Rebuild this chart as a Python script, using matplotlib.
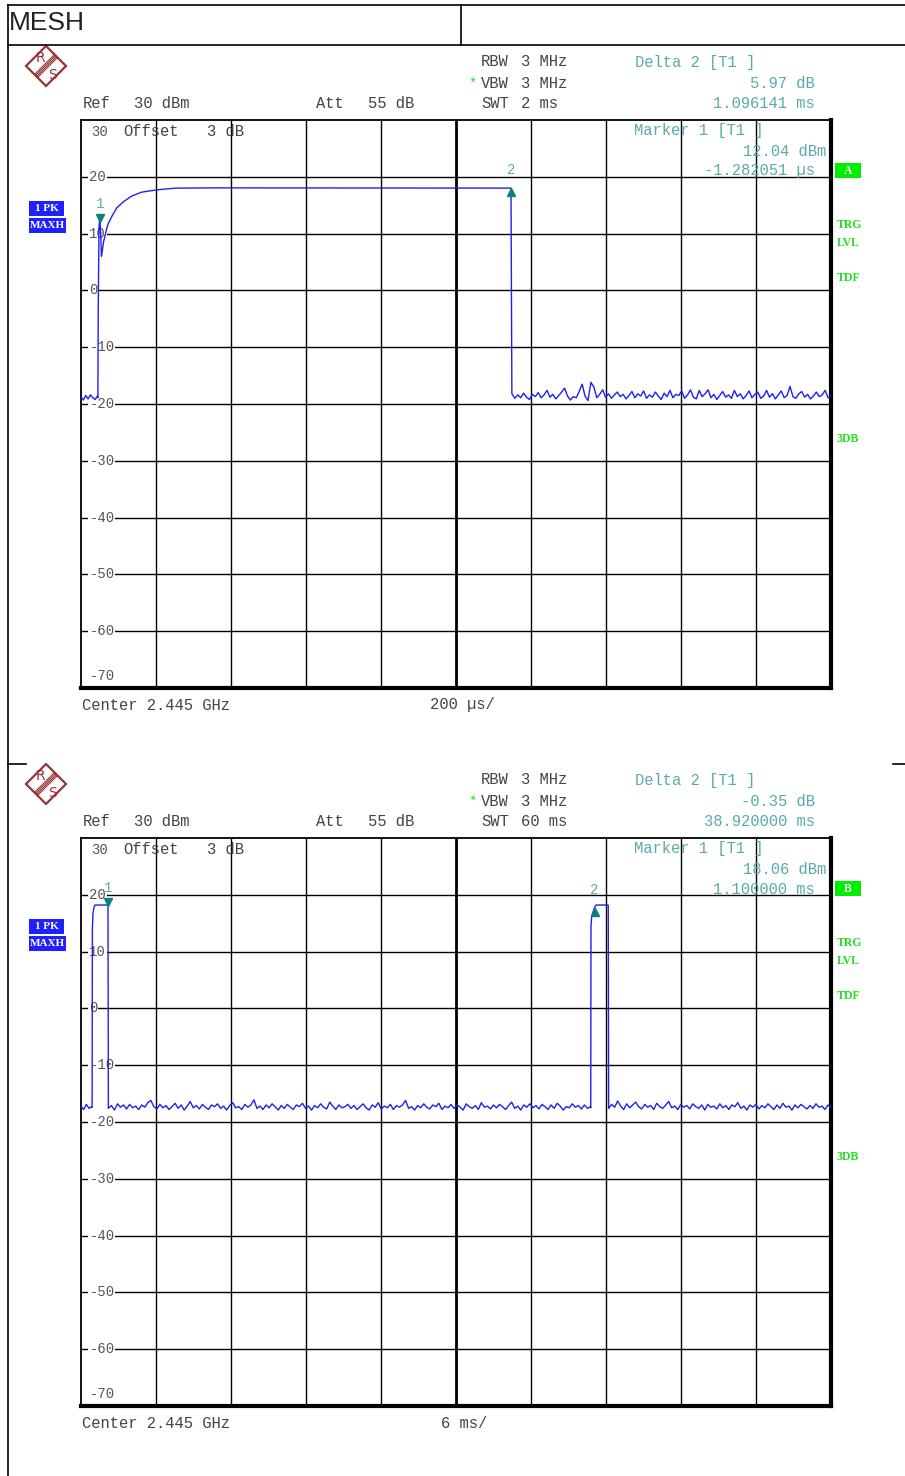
import numpy as np
import matplotlib.pyplot as plt
from matplotlib.patches import Polygon, Rectangle
from matplotlib.transforms import blended_transform_factory, offset_copy

W, H = 905, 1476
MONO = "Liberation Mono"
TEAL = "#5aabab"
GREEN = "#22e022"
TRACE = "#2020ee"

# ---- screen 1: SWT 2 ms, 200 us/div (time in us)
T1_START, T1_SPAN = -52.0, 2000.0
PRE1_V = [-18.7, -19.3, -18.5, -19.1, -18.4, -18.9, -19.2, -18.6]
PULSE1_T = [-7.0, -6.0, -5.0, -4.0, -2.5, -1.3, 0.5, 2.5, 4.5, 8.0, 12.0, 17.0,
            21.0, 30.0, 43.0, 61.0, 83.0, 110.0, 150.0, 199.0, 300.0, 1094.7]
PULSE1_V = [-18.9, -3.0, 4.5, 11.0, 12.3, 12.04, 10.0, 6.0, 6.8, 8.5, 9.6, 11.0,
            11.8, 13.0, 14.5, 15.6, 16.6, 17.3, 17.7, 18.0, 18.05, 18.01]
POST1_V = [
    -18.2, -19.0, -18.4, -18.9, -18.1, -18.8, -19.2, -18.3, -18.7, -18.0,
    -18.9, -18.4, -17.6, -18.8, -18.3, -19.1, -18.5, -17.9, -17.2, -18.6,
    -19.3, -18.7, -18.9, -17.8, -16.5, -18.6, -19.4, -16.2, -17.0, -18.9,
    -18.3, -17.5, -18.8, -18.2, -19.0, -18.4, -17.9, -18.7, -18.3, -19.1,
    -18.5, -17.8, -18.9, -18.2, -18.6, -17.7, -19.0, -18.4, -18.8, -17.9,
    -18.6, -19.2, -18.1, -18.7, -17.6, -18.9, -18.3, -18.5, -17.7, -19.0,
    -18.4, -17.5, -18.8, -19.1, -17.6, -18.7, -18.2, -17.5, -18.9, -18.3,
    -19.2, -18.5, -17.8, -18.8, -18.4, -19.0, -17.6, -18.7, -18.2, -19.1,
    -18.5, -17.7, -18.9, -18.3, -17.9, -19.0, -18.6, -17.6, -18.8, -18.2,
    -19.1, -18.4, -17.7, -18.9, -18.5, -16.9, -18.7, -19.0, -18.2, -17.8,
    -18.8, -18.3, -19.1, -18.6, -17.9, -18.7, -18.4, -17.6, -18.9, -18.5,
]
MARK1_T, MARK1_V = [-1.28, 1094.86], [12.04, 18.01]

# ---- screen 2: SWT 60 ms, 6 ms/div (time in ms)
T2_START, T2_SPAN = -1.06, 60.0
PRE2_V = [-17.2, -17.8, -16.9, -17.6, -17.3]
PULSE2A_T = [-0.17, -0.15, -0.10, -0.02, 0.06, 1.08, 1.10]
PULSE2A_V = [-17.4, 14.0, 16.8, 17.8, 18.2, 18.2, 18.06]
MID2_V = [
    -17.6, -17.1, -17.9, -16.8, -17.4, -17.0, -17.7, -16.9, -17.5, -17.2,
    -17.8, -17.0, -17.4, -16.6, -16.2, -17.3, -17.7, -16.9, -17.5, -17.1,
    -17.8, -17.3, -16.7, -17.6, -17.0, -17.9, -17.2, -16.4, -17.5, -17.1,
    -17.7, -16.9, -17.4, -17.8, -17.0, -17.3, -16.8, -17.6, -17.2, -17.9,
    -17.1, -16.6, -17.5, -17.3, -17.8, -16.9, -17.4, -17.0, -16.1, -17.6,
    -17.2, -17.8, -17.0, -17.5, -16.8, -17.3, -17.9, -17.1, -17.6, -16.9,
    -17.4, -17.8, -17.0, -17.3, -16.7, -17.6, -17.2, -17.9, -17.1, -17.5,
    -16.8, -17.4, -17.7, -16.5, -17.2, -17.8, -17.0, -17.5, -17.3, -16.9,
    -17.6, -17.1, -17.8, -17.3, -16.8, -17.5, -17.9, -17.0, -17.4, -16.6,
    -17.7, -17.2, -17.5, -16.9, -17.8, -17.1, -17.4, -17.0, -16.2, -17.6,
    -17.3, -17.9, -17.1, -17.5, -16.8, -17.4, -17.7, -17.0, -17.3, -16.7,
    -17.8, -17.2, -17.5, -16.9, -17.6, -17.0, -17.4, -17.9, -16.8, -17.3,
    -17.6, -17.1, -17.8, -16.6, -17.4, -17.2, -17.7, -17.0, -17.5, -16.9,
    -17.3, -17.8, -17.1, -16.5, -17.6, -17.2, -17.9, -17.0, -17.4, -16.8,
    -17.5, -17.1, -17.7, -16.9, -17.3, -17.8, -17.0, -17.6, -16.7, -17.2,
    -17.9, -17.3, -17.5, -16.8, -17.4, -17.1, -17.7, -17.0, -17.6, -17.3,
]
PULSE2B_T = [39.72, 39.74, 39.80, 40.02, 40.14, 41.10, 41.12]
PULSE2B_V = [-17.5, 14.5, 16.3, 17.71, 18.2, 18.2, 18.1]
POST2_V = [
    -17.6, -16.9, -17.4, -16.3, -17.2, -17.8, -16.8, -17.5, -17.0, -16.5,
    -17.3, -17.7, -16.9, -17.4, -17.1, -17.8, -16.7, -17.3, -17.6, -17.0,
    -16.4, -17.5, -17.2, -17.8, -16.9, -17.4, -17.1, -17.7, -16.8, -17.3,
    -17.6, -17.0, -17.9, -16.9, -17.4, -17.2, -17.7, -16.8, -17.5, -17.1,
    -17.8, -17.0, -17.3, -16.6, -17.6, -17.2, -17.9, -17.0, -17.4, -16.9,
    -17.7, -17.1, -17.5, -16.8, -17.3, -17.8, -17.0, -17.6, -16.7, -17.4,
    -17.2, -17.9, -17.0, -17.5, -16.9, -17.3, -17.7, -17.1, -17.6, -16.8,
    -17.4, -17.2, -17.8, -17.0, -17.5,
]
MARK2_T, MARK2_V = [1.10, 40.02], [18.06, 17.71]

Y_GRID = [20, 10, 0, -10, -20, -30, -40, -50, -60]

trace1_t = np.concatenate([np.linspace(-52.0, -8.0, len(PRE1_V)), PULSE1_T,
                           np.linspace(1097.0, 1948.0, len(POST1_V))])
trace1_v = np.concatenate([PRE1_V, PULSE1_V, POST1_V])
trace2_t = np.concatenate([np.linspace(-1.06, -0.20, len(PRE2_V)), PULSE2A_T,
                           np.linspace(1.13, 39.70, len(MID2_V)), PULSE2B_T,
                           np.linspace(41.15, 58.94, len(POST2_V))])
trace2_v = np.concatenate([PRE2_V, PULSE2A_V, MID2_V, PULSE2B_V, POST2_V])

fig = plt.figure(figsize=(W / 100, H / 100), dpi=100)
fig.patch.set_facecolor("white")


def px_rect(l, t, r, b):
    return [l / W, 1 - b / H, (r - l) / W, (b - t) / H]


def draw_screen(top, t_start, t_span, t, v, mk_t, mk_v):
    ax = fig.add_axes(px_rect(81, top, 831, top + 568))
    ax.set_xlim(t_start, t_start + t_span)
    ax.set_ylim(-70, 30)
    ax.set_xticks([])
    ax.set_yticks([])
    for side in ("left", "top"):
        ax.spines[side].set_linewidth(1.3)
    for side in ("right", "bottom"):
        ax.spines[side].set_linewidth(3.0)
    for k in range(1, 10):
        ax.axvline(t_start + k * t_span / 10, color="black",
                   lw=2.0 if k == 5 else 1.0, zorder=1)
    for y in Y_GRID:
        ax.axhline(y, color="black", lw=1.0, zorder=1)
    lab_tr = blended_transform_factory(ax.transAxes, ax.transData)
    for y in Y_GRID:
        ax.text(0.011, y, str(y), transform=lab_tr,
                family=MONO, fontsize=10, color="#555555", va="center",
                ha="left", zorder=2,
                bbox=dict(facecolor="white", edgecolor="none", pad=0.6))
    ax.text(0.011, -67.9, "-70", transform=lab_tr, family=MONO,
            fontsize=10, color="#555555", va="center", ha="left", zorder=2)
    ax.plot(t, v, color=TRACE, lw=1.0, zorder=3)
    up = offset_copy(ax.transData, fig=fig, y=4, units="dots")
    down = offset_copy(ax.transData, fig=fig, y=-4, units="dots")
    ax.plot(mk_t[0], mk_v[0], marker="v", color="#0a7f7f", ms=6,
            transform=up, zorder=4)
    ax.plot(mk_t[1], mk_v[1], marker="^", color="#0a7f7f", ms=6,
            transform=down, zorder=4)
    for i, (mt, mv) in enumerate(zip(mk_t, mk_v)):
        lab = offset_copy(ax.transData, fig=fig, y=18, units="dots")
        ax.text(mt, mv, str(i + 1), transform=lab, family=MONO, fontsize=10,
                color=TEAL, ha="center", va="center", zorder=4)
    return ax


draw_screen(120, T1_START, T1_SPAN, trace1_t, trace1_v, MARK1_T, MARK1_V)
draw_screen(838, T2_START, T2_SPAN, trace2_t, trace2_v, MARK2_T, MARK2_V)

# overlay in pixel coordinates for the instrument annotations
ov = fig.add_axes([0, 0, 1, 1])
ov.set_xlim(0, W)
ov.set_ylim(H, 0)
ov.axis("off")
ov.patch.set_alpha(0)


def txt(x, y, s, color="#444444", ha="left", size=11.2, **kw):
    kw.setdefault("family", MONO)
    ov.text(x, y, s, color=color, ha=ha, va="center", fontsize=size, **kw)


# page frame
ov.plot([7.5, W], [4.5, 4.5], color="black", lw=1.2)
ov.plot([7.5, W], [45, 45], color="black", lw=1.2)
ov.plot([461, 461], [4.5, 45], color="black", lw=1.2)
ov.plot([7.5, 7.5], [4.5, H], color="black", lw=1.2)
ov.plot([7.5, 26], [764, 764], color="black", lw=1.2)
ov.plot([893, W], [764, 764], color="black", lw=1.2)
txt(9, 23, "MESH", color="#222222", size=19, family="Liberation Sans")

headers = [
    (0, "2 ms", "5.97 dB", "1.096141 ms", "12.04 dBm", "-1.282051 \u00b5s",
     "A", "200 \u00b5s/", 430),
    (718, "60 ms", "-0.35 dB", "38.920000 ms", "18.06 dBm", "1.100000 ms",
     "B", "6 ms/", 441),
]
for dy, swt, d_lvl, d_time, m_lvl, m_time, tag, div, div_x in headers:
    # R&S logo
    cx, cy = 46, 66 + dy
    ov.add_patch(Polygon([(cx - 20, cy), (cx, cy - 20), (cx + 20, cy), (cx, cy + 20)],
                         closed=True, fill=False, edgecolor="#993333", lw=1.6))
    for k in (-1.5, -0.5, 0.5, 1.5):
        ov.plot([cx - 10 + k, cx + 10 + k], [cy + 10 + k, cy - 10 + k],
                color="#993333", lw=0.8)
    txt(cx - 6, cy - 8, "R", color="#993333", size=10, family="DejaVu Sans",
        ha="center")
    txt(cx + 6, cy + 9, "S", color="#993333", size=10, family="DejaVu Sans",
        ha="center")

    txt(83, 103 + dy, "Ref")
    txt(134, 103 + dy, "30 dBm")
    txt(316, 103 + dy, "Att")
    txt(368, 103 + dy, "55 dB")
    txt(481, 62 + dy, "RBW")
    txt(521, 62 + dy, "3 MHz")
    txt(468, 84 + dy, "*", color=GREEN, size=10)
    txt(481, 83 + dy, "VBW")
    txt(521, 83 + dy, "3 MHz")
    txt(481, 103 + dy, "SWT")
    txt(521, 103 + dy, swt)
    txt(635, 62 + dy, "Delta 2 [T1 ]", color=TEAL)
    txt(815, 83 + dy, d_lvl, color=TEAL, ha="right")
    txt(815, 103 + dy, d_time, color=TEAL, ha="right")
    txt(634, 131 + dy, "Marker 1 [T1 ]", color=TEAL)
    txt(826, 151 + dy, m_lvl, color=TEAL, ha="right")
    txt(815, 171 + dy, m_time, color=TEAL, ha="right")
    txt(91, 132 + dy, "30", color="#555555", size=10)
    txt(123, 132 + dy, "Offset")
    txt(207, 132 + dy, "3 dB")
    txt(82, 705 + dy, "Center 2.445 GHz")
    txt(div_x, 705 + dy, div)

    # trace info boxes
    for (y0, y1, w, lab) in [(200.7, 215.7, 35, "1 PK"), (218.3, 233.3, 36.7, "MAXH")]:
        ov.add_patch(Rectangle((29.3, y0 + dy), w, y1 - y0, facecolor="#1f1fff",
                               edgecolor="none"))
        txt(29.3 + w / 2, (y0 + y1) / 2 + dy, lab, color="white", ha="center",
            size=8, family="Liberation Serif", weight="bold")
    ov.add_patch(Rectangle((835, 163 + dy), 26, 15, facecolor="#00ee00",
                           edgecolor="none"))
    txt(848, 170.5 + dy, tag, color="white", ha="center", size=8.5,
        family="Liberation Serif", weight="bold")
    for y, lab in [(225, "TRG"), (243, "LVL"), (278, "TDF"), (439, "3DB")]:
        txt(837, y + dy, lab, color=GREEN, size=8.5, family="Liberation Serif",
            weight="bold")

fig.savefig("out.png", dpi=100, facecolor="white")
